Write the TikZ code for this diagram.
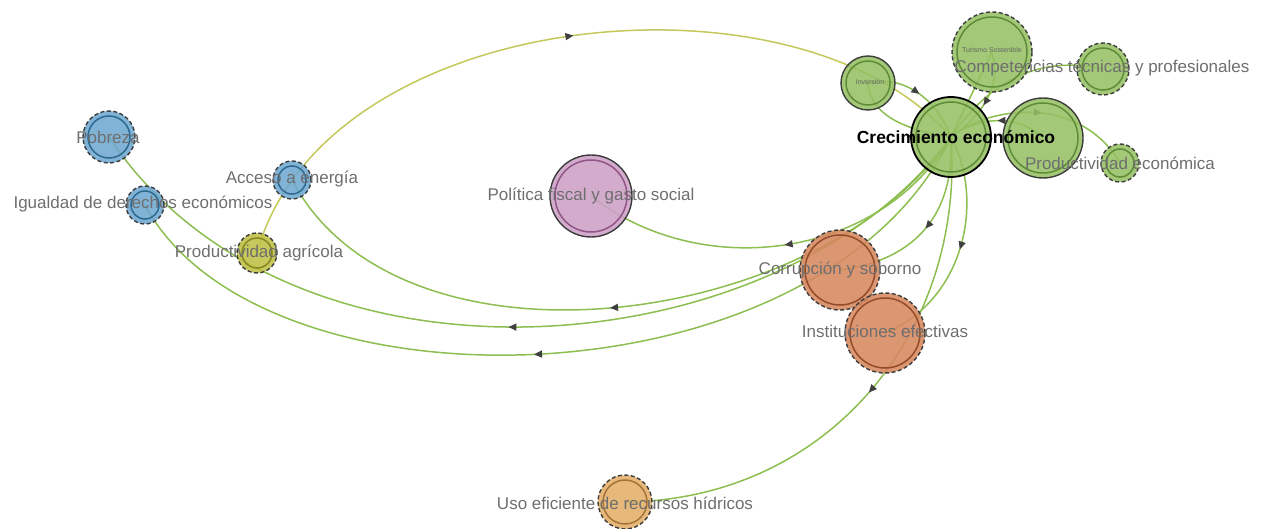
\documentclass[tikz,border=0pt]{standalone}
\usepackage{fontspec}
\setmainfont{Liberation Sans}
\usetikzlibrary{arrows.meta,decorations.markings}
\definecolor{gfill}{RGB}{150,192,100}\definecolor{gring}{RGB}{95,140,55}
\definecolor{bfill}{RGB}{110,168,208}\definecolor{bring}{RGB}{45,105,145}
\definecolor{yfill}{RGB}{190,192,70}\definecolor{yring}{RGB}{135,135,30}
\definecolor{pfill}{RGB}{205,160,198}\definecolor{pring}{RGB}{145,85,135}
\definecolor{ofill}{RGB}{214,135,95}\definecolor{oring}{RGB}{150,75,40}
\definecolor{lfill}{RGB}{226,175,105}\definecolor{lring}{RGB}{165,115,55}
\definecolor{edgeg}{RGB}{140,190,80}\definecolor{edgey}{RGB}{195,200,90}
\definecolor{bord}{RGB}{60,60,60}\definecolor{labc}{RGB}{110,110,110}
\pgfdeclarelayer{bg}\pgfsetlayers{bg,main}
\tikzset{
  vnode/.style n args={3}{circle, inner sep=0pt, minimum size={2*#1}, draw=bord, line width=1.4pt,
     fill=#2, fill opacity=0.88,
     path picture={\draw[#3, solid, line width=1.5pt] (path picture bounding box.center) circle[radius={#1-5}];}},
  dashnode/.style={dashed, dash pattern=on 4pt off 2.5pt},
  edge/.style={draw=edgeg, line width=1.5pt},
  yedge/.style={draw=edgey, line width=1.5pt},
  amark/.style={postaction={decorate, decoration={markings, mark=at position #1 with {\arrow{Triangle[length=8pt,width=7pt,color=black!75]}}}}},
  lab/.style={text=labc, font=\fontsize{17}{20}\selectfont, inner sep=0pt},
  slab/.style={text=black!60, font=\fontsize{7}{8}\selectfont, inner sep=0pt},
}
\begin{document}
\begin{tikzpicture}[x=1pt,y=-1pt]
\useasboundingbox (0,0) rectangle (1265,529);
% nodes
\node[vnode={40}{gfill}{gring}, draw=black, line width=1.8pt] (crec) at (951,137) {};
\node[vnode={27}{gfill}{gring}] (inv) at (868,83) {};
\node[vnode={40}{gfill}{gring}, dashnode] (tur) at (992,52) {};
\node[vnode={26}{gfill}{gring}, dashnode] (comp) at (1103,69) {};
\node[vnode={40}{gfill}{gring}] (big) at (1043,138) {};
\node[vnode={19}{gfill}{gring}, dashnode] (prode) at (1120,163) {};
\node[vnode={26}{bfill}{bring}, dashnode] (pob) at (109,137) {};
\node[vnode={19}{bfill}{bring}, dashnode] (igu) at (145,205) {};
\node[vnode={19}{bfill}{bring}, dashnode] (acc) at (292,180) {};
\node[vnode={20}{yfill}{yring}, dashnode] (agr) at (257,253) {};
\node[vnode={41}{pfill}{pring}] (pol) at (591,196) {};
\node[vnode={40}{ofill}{oring}, dashnode] (cor) at (840,270) {};
\node[vnode={40}{ofill}{oring}, dashnode] (ins) at (885,333) {};
\node[vnode={27}{lfill}{lring}, dashnode] (uso) at (625,502) {};
% edges
\begin{pgfonlayer}{bg}
\draw[yedge, amark=0.5] (agr.center) .. controls (325,5) and (800,-40) .. (crec.center);
\draw[edge, amark=0.5] (crec.center) .. controls (880,260) and (700,282) .. (pol.center);
\draw[edge, amark=0.52] (crec.center) .. controls (820,330) and (400,385) .. (acc.center);
\draw[edge, amark=0.52] (crec.center) .. controls (780,370) and (290,410) .. (pob.center);
\draw[edge, amark=0.53] (crec.center) .. controls (820,410) and (260,420) .. (igu.center);
\draw[edge, amark=0.5] (crec.center) .. controls (955,215) and (915,260) .. (cor.center);
\draw[edge, amark=0.5] (crec.center) .. controls (985,200) and (965,300) .. (ins.center);
\draw[edge, amark=0.5] (crec.center) .. controls (965,330) and (830,500) .. (uso.center);
\draw[edge, amark=0.5] (inv.center) .. controls (900,75) and (935,95) .. (crec.center);
\draw[edge] (inv.center) .. controls (870,115) and (905,130) .. (crec.center);
\draw[edge] (comp.center) .. controls (1040,55) and (990,80) .. (crec.center);
\draw[edge, amark=0.55] (tur.center) .. controls (1000,80) and (990,110) .. (crec.center);
\draw[edge] (tur.center) -- (crec.center);
\draw[edge, amark=0.5] (crec.center) .. controls (990,105) and (1080,95) .. (prode.center);
\draw[edge, amark=0.5] (big.center) .. controls (1020,115) and (980,115) .. (crec.center);
\end{pgfonlayer}
% labels
\node[slab] (inv-l) at (870,82) {Inversión};
\node[slab] (tur-l) at (992,50) {Turismo Sostenible};
\node[lab] (comp-l) at (1102,68) {Competencias técnicas y profesionales};
\node[lab] (prode-l) at (1120,163) {Productividad económica};
\node[lab, text=black, font=\fontsize{17.5}{20}\selectfont\bfseries] (crec-l) at (956,137) {Crecimiento económico};
\node[lab] (pob-l) at (108,137) {Pobreza};
\node[lab] (igu-l) at (143,204) {Igualdad de derechos económicos};
\node[lab] (acc-l) at (292,179) {Acceso a energía};
\node[lab] (agr-l) at (259,253) {Productividad agrícola};
\node[lab] (pol-l) at (591,196) {Política fiscal y gasto social};
\node[lab] (cor-l) at (840,270) {Corrupción y soborno};
\node[lab] (ins-l) at (885,331) {Instituciones efectivas};
\node[lab] (uso-l) at (625,503) {Uso eficiente de recursos hídricos};
\end{tikzpicture}
\end{document}
